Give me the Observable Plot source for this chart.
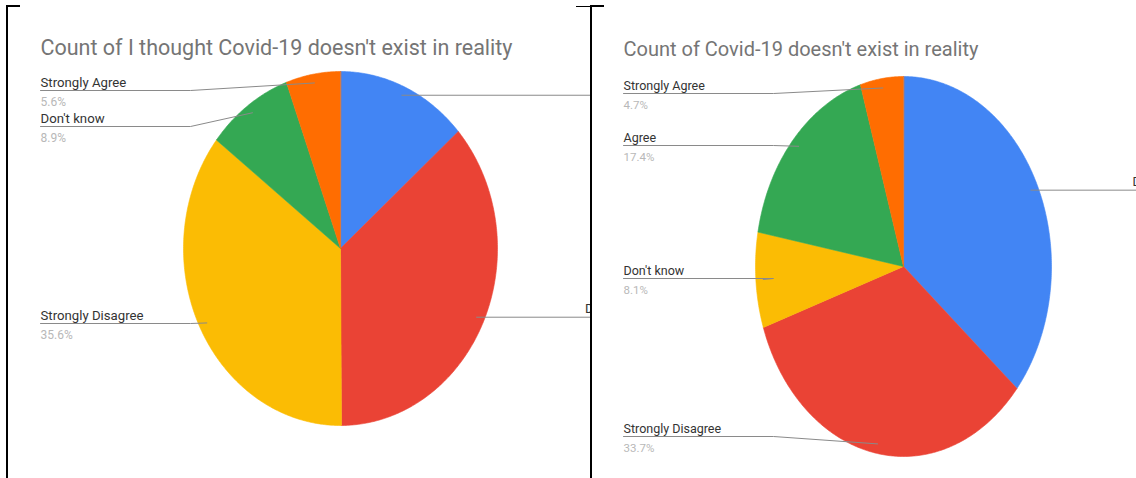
<!DOCTYPE html>
<html>
<head>
<meta charset="utf-8">
<script src="https://cdn.jsdelivr.net/npm/d3@7"></script>
<script src="https://cdn.jsdelivr.net/npm/@observablehq/plot@0.6"></script>
<style>
  html, body { margin: 0; padding: 0; background: #fff; }
  body { width: 1136px; height: 478px; overflow: hidden; position: relative; font-family: Roboto, sans-serif; }
  .panel { position: absolute; top: 0; height: 478px; overflow: hidden; }
  .panel svg { display: block; overflow: hidden; }
  .rule { position: absolute; background: #000; }
</style>
</head>
<body>
<div id="p1" class="panel" style="left:0;width:590px"></div>
<div id="p2" class="panel" style="left:592px;width:544px"></div>
<div class="rule" style="left:6px;top:5px;width:2px;height:473px"></div>
<div class="rule" style="left:6px;top:5px;width:14px;height:2px"></div>
<div class="rule" style="left:590px;top:5px;width:2px;height:473px"></div>
<div class="rule" style="left:576px;top:6px;width:14px;height:1px"></div>
<div class="rule" style="left:590px;top:5px;width:14px;height:2px"></div>
<script>
// ---- data ----
const leftTitle = "Count of I thought Covid-19 doesn't exist in reality";
const leftCategories = ["Agree", "Disagree", "Strongly Disagree", "Don't know", "Strongly Agree"];
const leftPercents = [13.5, 36.4, 35.6, 8.9, 5.6];

const rightTitle = "Count of Covid-19 doesn't exist in reality";
const rightCategories = ["Disagree", "Strongly Disagree", "Don't know", "Agree", "Strongly Agree"];
const rightPercents = [36.1, 33.7, 8.1, 17.4, 4.7];

const sliceColors = ["#4285F4", "#EA4335", "#FBBC04", "#34A853", "#FF6D01"];

// ---- layout (pixels) ----
const leftLayout = {
  width: 590, height: 478, cx: 340, cy: 248, rx: 157, ry: 177,
  titleX: 40, titleY: 54, titleSize: 21.5, nameSize: 13.2, pctSize: 12,
  labelX: 40, rightLabelEnd: 636, elbow: 150,
  side: ["right", "right", "left", "left", "left"],
  showName: [false, true, true, true, true],
  lineY: [null, null, 323, 126, 90]
};
const rightLayout = {
  width: 544, height: 478, cx: 311, cy: 266, rx: 148, ry: 190,
  titleX: 31, titleY: 55, titleSize: 20, nameSize: 12.5, pctSize: 11.5,
  labelX: 31, rightLabelEnd: 589, elbow: 150,
  side: ["right", "left", "left", "left", "left"],
  showName: [true, true, true, true, true],
  lineY: [null, 436, 278, 145, 93]
};

function pieChart(categories, percents, title, L) {
  const xOpt = {domain: [-1, 1], range: [L.cx - L.rx, L.cx + L.rx]};
  const yOpt = {domain: [-1, 1], range: [L.cy + L.ry, L.cy - L.ry]};
  const xs = Plot.scale({x: xOpt});
  const ys = Plot.scale({y: yOpt});
  const arcs = d3.pie().sort(null).value(d => d)(percents);

  const slicePts = [];
  arcs.forEach((a, i) => {
    slicePts.push({key: categories[i], x: 0, y: 0});
    const n = Math.max(2, Math.ceil((a.endAngle - a.startAngle) / 0.01));
    for (let k = 0; k <= n; k++) {
      const t = a.startAngle + (a.endAngle - a.startAngle) * k / n;
      slicePts.push({key: categories[i], x: Math.sin(t), y: Math.cos(t)});
    }
  });

  const leaders = [], names = [], pcts = [];
  arcs.forEach((a, i) => {
    const m = (a.startAngle + a.endAngle) / 2;
    const ax = 0.95 * Math.sin(m), ay = 0.95 * Math.cos(m);
    const key = categories[i];
    const label = d3.format(".1f")(percents[i]) + "%";
    if (L.side[i] === "left") {
      const ly = ys.invert(L.lineY[i]);
      leaders.push({key, x: xs.invert(L.labelX), y: ly});
      leaders.push({key, x: xs.invert(L.labelX + L.elbow), y: ly});
      leaders.push({key, x: ax, y: ay});
      names.push({text: key, x: xs.invert(L.labelX), y: ys.invert(L.lineY[i] - 4), anchor: "start"});
      pcts.push({text: label, x: xs.invert(L.labelX), y: ys.invert(L.lineY[i] + 15), anchor: "start"});
    } else {
      // right-hand labels sit past the cell edge; only their first letter shows
      const py = ys.apply(ay);
      leaders.push({key, x: ax, y: ay});
      leaders.push({key, x: xs.invert(L.width + 80), y: ay});
      if (L.showName[i]) names.push({text: key, x: xs.invert(L.rightLabelEnd), y: ys.invert(py - 4), anchor: "end"});
    }
  });

  return Plot.plot({
    width: L.width,
    height: L.height,
    margin: 0,
    style: {fontFamily: "Roboto, sans-serif", background: "transparent", overflow: "hidden"},
    x: {...xOpt, axis: null},
    y: {...yOpt, axis: null},
    color: {domain: categories, range: sliceColors},
    marks: [
      Plot.line(slicePts, {x: "x", y: "y", z: "key", fill: "key", stroke: "key", strokeWidth: 0.6, curve: "linear-closed"}),
      Plot.line(leaders, {x: "x", y: "y", z: "key", stroke: "#8a8a8a", strokeWidth: 1}),
      Plot.text(names, {x: "x", y: "y", text: "text", textAnchor: "start", lineAnchor: "bottom", fontSize: L.nameSize, fill: "#333", filter: d => d.anchor === "start"}),
      Plot.text(names, {x: "x", y: "y", text: "text", textAnchor: "end", lineAnchor: "bottom", fontSize: L.nameSize, fill: "#333", filter: d => d.anchor === "end"}),
      Plot.text(pcts, {x: "x", y: "y", text: "text", textAnchor: "start", lineAnchor: "bottom", fontSize: L.pctSize, fill: "#b8b8b8"}),
      Plot.text([title], {x: xs.invert(L.titleX), y: ys.invert(L.titleY), text: d => d, textAnchor: "start", lineAnchor: "bottom", fontSize: L.titleSize, fill: "#757575"})
    ]
  });
}

document.getElementById("p1").append(pieChart(leftCategories, leftPercents, leftTitle, leftLayout));
document.getElementById("p2").append(pieChart(rightCategories, rightPercents, rightTitle, rightLayout));
</script>
</body>
</html>
